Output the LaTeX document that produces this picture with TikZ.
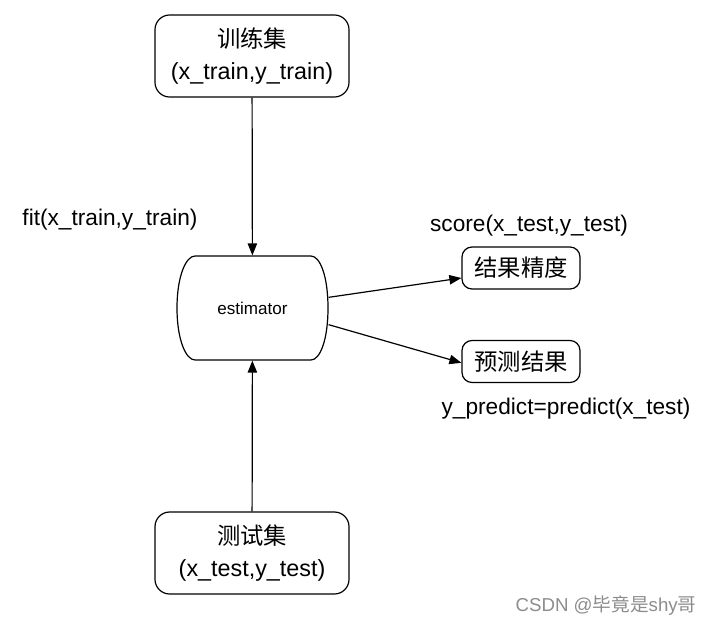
\documentclass[tikz,border=0pt]{standalone}
\usepackage{fontspec}
\setmainfont{Liberation Sans}
\newfontfamily\cjk{Noto Sans CJK SC}
\usetikzlibrary{arrows.meta}

\tikzset{every picture/.style={line width=0.9pt}}
\tikzset{
  setbox/.style={draw, rounded corners=11pt, minimum width=145.5pt, minimum height=61.5pt, align=center, font=\fontsize{17.5}{24}\selectfont},
  resbox/.style={draw, rounded corners=7.5pt, minimum width=88.5pt, minimum height=31.5pt, inner sep=0pt, font=\fontsize{17.5}{21}\selectfont\cjk},
  estbox/.style={minimum width=113.25pt, minimum height=78pt, inner sep=0pt, font=\fontsize{12.8}{15}\selectfont},
  calllabel/.style={inner sep=0pt, font=\fontsize{17}{20}\selectfont},
  flow/.style={-{Triangle[length=9pt,width=7pt]}}
}

\begin{document}
\begin{tikzpicture}[x=0.75pt,y=0.75pt,yscale=-1,xscale=1]
\useasboundingbox (0,0) rectangle (712,627);

%Rounded Rect [id:train]
\node [setbox] (train) at (252,56) {{\cjk 训练集}\\(x\_train,y\_train)};
%Rounded Rect [id:test]
\node [setbox] (test) at (252,553) {{\cjk 测试集}\\(x\_test,y\_test)};
%Shape: estimator
\node [estbox] (est) at (252.5,308) {estimator};
\draw (195,256) -- (311,256) .. controls (320,256) and (328,276) .. (328,308)
  .. controls (328,340) and (320,360) .. (311,360) -- (195,360)
  .. controls (186,360) and (177,340) .. (177,308)
  .. controls (177,276) and (186,256) .. (195,256) -- cycle ;
%Rounded Rect [id:score]
\node [resbox] (score) at (521,268) {结果精度};
%Rounded Rect [id:predict]
\node [resbox] (predict) at (521,361.5) {预测结果};

%Straight Lines
\draw [flow] (train) -- (est);
\draw [flow] (test) -- (est);
\draw [flow] ([yshift=-8pt]est.east) -- ([yshift=7.5pt]score.west);
\draw [flow] ([yshift=12.5pt]est.east) -- ([yshift=1pt]predict.west);

% Text Node
\node [calllabel] (fitlbl) at (110,220) {fit(x\_train,y\_train)};
% Text Node
\node [calllabel] (scorelbl) at (529,226) {score(x\_test,y\_test)};
% Text Node
\node [calllabel] (predlbl) at (566,409) {y\_predict=predict(x\_test)};
% Text Node
\node [inner sep=0pt, text=black!45, font=\fontsize{14}{16}\selectfont] (mark) at (606,606) {CSDN @{\cjk 毕竟是}shy{\cjk 哥}};

\end{tikzpicture}
\end{document}
